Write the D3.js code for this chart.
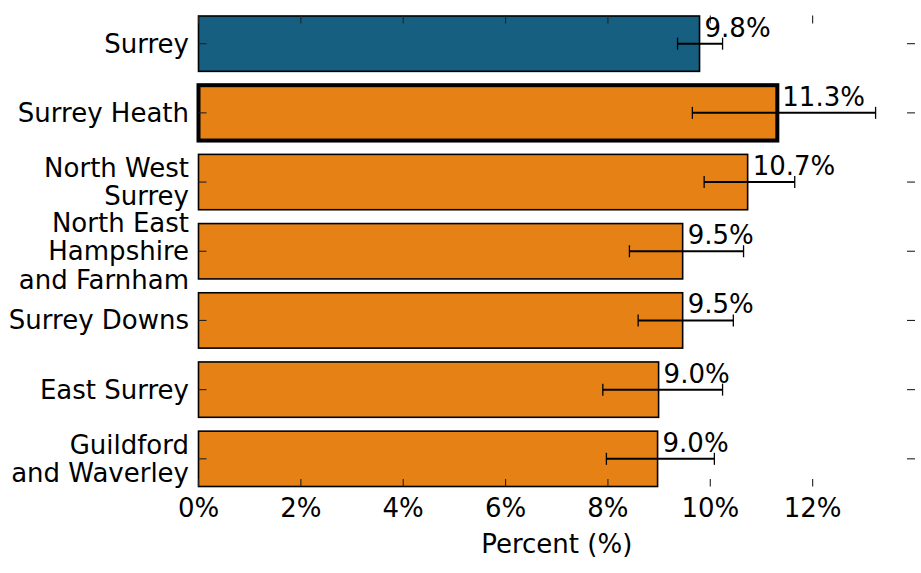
<!DOCTYPE html>
<html>
<head>
<meta charset="utf-8">
<script src="https://cdn.jsdelivr.net/npm/d3@7"></script>
<style>
  html, body { margin: 0; padding: 0; background: #fff; }
  svg { display: block; font-family: "DejaVu Sans", sans-serif; }
</style>
</head>
<body>
<svg id="chart" width="921" height="573"></svg>
<script>
// ---- data ----
const categories = ["Surrey", "Surrey Heath", "North West Surrey", "North East Hampshire and Farnham", "Surrey Downs", "East Surrey", "Guildford and Waverley"];
const categoryLabels = [["Surrey"], ["Surrey Heath"], ["North West", "Surrey"], ["North East", "Hampshire", "and Farnham"], ["Surrey Downs"], ["East Surrey"], ["Guildford", "and Waverley"]];
const values = [9.79, 11.31, 10.73, 9.46, 9.46, 8.99, 8.97];
const lowerCI = [9.36, 9.65, 9.88, 8.42, 8.59, 7.90, 7.97];
const upperCI = [10.24, 13.23, 11.65, 10.65, 10.45, 10.24, 10.08];
const xTicks = [0, 2, 4, 6, 8, 10, 12];
const xLabel = "Percent (%)";
const highlighted = "Surrey Heath";
const overall = "Surrey";

// ---- layout ----
const svg = d3.select("#chart");
const mLeft = 198.5, mRight = 915, mTop = 15.5, mBottom = 486.5;
const fs = 26;

const x = d3.scaleLinear().domain([0, 14]).range([mLeft, mRight]);
const y = d3.scaleBand().domain(categories).range([mTop + 0.5, mBottom]).paddingInner(0.2).paddingOuter(0);

const rows = categories.map((c, i) => ({ c, v: values[i], lo: lowerCI[i], hi: upperCI[i], lab: categoryLabels[i] }));

// bars
svg.append("g").selectAll("rect").data(rows).join("rect")
  .attr("x", x(0))
  .attr("y", d => y(d.c))
  .attr("width", d => x(d.v) - x(0))
  .attr("height", y.bandwidth())
  .attr("fill", d => d.c === overall ? "#175f80" : "#e68115")
  .attr("stroke", "#000")
  .attr("stroke-width", d => d.c === highlighted ? 4 : 1.6);

// error bars
const eb = svg.append("g").attr("stroke", "#000");
rows.forEach(d => {
  const cy = y(d.c) + y.bandwidth() / 2;
  eb.append("line").attr("x1", x(d.lo)).attr("x2", x(d.hi)).attr("y1", cy).attr("y2", cy).attr("stroke-width", 2);
  eb.append("line").attr("x1", x(d.lo)).attr("x2", x(d.lo)).attr("y1", cy - 6).attr("y2", cy + 6).attr("stroke-width", 1.3);
  eb.append("line").attr("x1", x(d.hi)).attr("x2", x(d.hi)).attr("y1", cy - 6).attr("y2", cy + 6).attr("stroke-width", 1.3);
});

// ticks (inward, all four sides, no spines)
const tk = svg.append("g").attr("stroke", "#222").attr("stroke-width", 1.1);
xTicks.forEach(t => {
  tk.append("line").attr("x1", x(t)).attr("x2", x(t)).attr("y1", mBottom).attr("y2", mBottom - 7.5);
  tk.append("line").attr("x1", x(t)).attr("x2", x(t)).attr("y1", mTop).attr("y2", mTop + 8);
});
categories.forEach(c => {
  const cy = y(c) + y.bandwidth() / 2;
  tk.append("line").attr("x1", mLeft).attr("x2", mLeft + 8).attr("y1", cy).attr("y2", cy);
  tk.append("line").attr("x1", mRight).attr("x2", mRight - 8).attr("y1", cy).attr("y2", cy);
});

// x tick labels
svg.append("g").selectAll("text").data(xTicks).join("text")
  .attr("x", d => x(d))
  .attr("y", 517)
  .attr("text-anchor", "middle")
  .attr("font-size", fs)
  .attr("fill", "#000")
  .text(d => d + "%");

// x axis title
svg.append("text")
  .attr("x", (mLeft + mRight) / 2)
  .attr("y", 552.5)
  .attr("text-anchor", "middle")
  .attr("font-size", fs)
  .attr("fill", "#000")
  .text(xLabel);

// y labels
const lh = 28.5;
const yl = svg.append("g");
rows.forEach(d => {
  const cy = y(d.c) + y.bandwidth() / 2;
  const n = d.lab.length;
  const t = yl.append("text").attr("text-anchor", "end").attr("font-size", fs).attr("fill", "#000");
  d.lab.forEach((line, i) => {
    t.append("tspan").attr("x", 189).attr("y", cy + 9 + (i - (n - 1) / 2) * lh).text(line);
  });
});

// value labels
svg.append("g").selectAll("text").data(rows).join("text")
  .attr("x", d => x(d.v) + 5)
  .attr("y", d => y(d.c) + y.bandwidth() / 2 - 7)
  .attr("font-size", fs)
  .attr("fill", "#000")
  .text(d => d.v.toFixed(1) + "%");
</script>
</body>
</html>
